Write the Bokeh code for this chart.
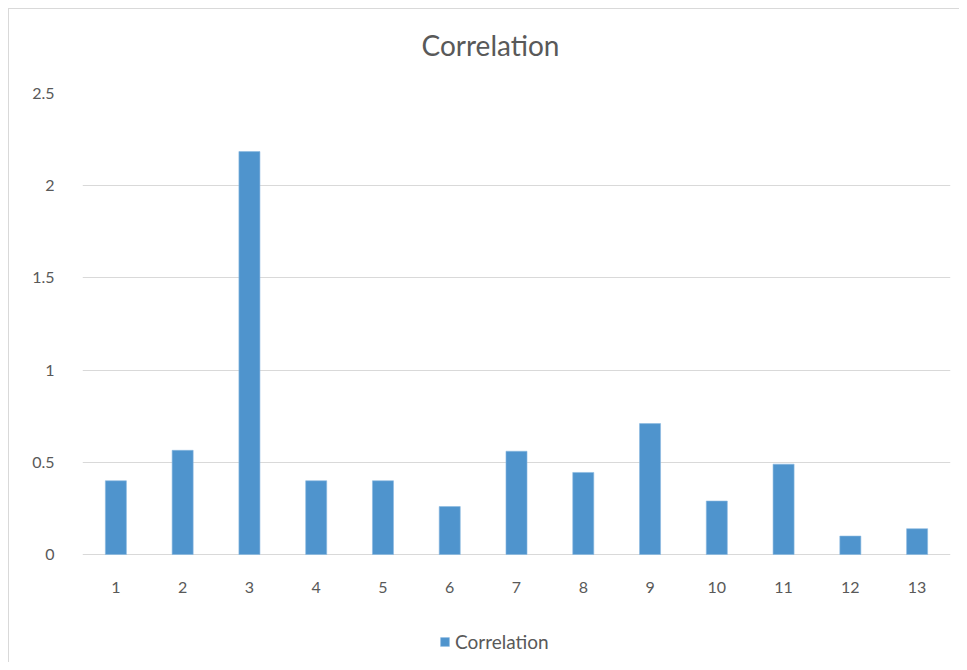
from bokeh.plotting import figure
from bokeh.models import FactorRange, Range1d, FixedTicker, CustomJSTickFormatter, Legend, LegendItem, ColumnDataSource
from bokeh.embed import file_html
from bokeh.resources import INLINE

categories = ["1", "2", "3", "4", "5", "6", "7", "8", "9", "10", "11", "12", "13"]
correlation = [0.40, 0.565, 2.185, 0.40, 0.40, 0.26, 0.56, 0.445, 0.71, 0.29, 0.49, 0.10, 0.14]
y_ticks = [0, 0.5, 1, 1.5, 2, 2.5]

FONT = "Lato"
TXT = "#595959"
BAR = "#4f94cd"

src = ColumnDataSource(dict(cat=categories, val=correlation))

p = figure(width=951, height=654, output_backend="svg", toolbar_location=None,
           x_range=FactorRange(*categories, range_padding=0), y_range=Range1d(-0.591, 2.5),
           min_border_left=73, min_border_right=10, min_border_top=84, min_border_bottom=0)
p.styles = {"border-left": "1px solid #d9d9d9", "border-top": "1px solid #d9d9d9",
            "margin-left": "8px", "margin-top": "8px"}
p.outline_line_color = None
p.background_fill_color = "white"
p.border_fill_color = "white"

r = p.vbar(x="cat", top="val", width=0.315, source=src, fill_color=BAR, line_color="#8ab8e0", line_width=0.6)

p.title.text = "Correlation"
p.title.align = "left"
p.title.offset = 339
p.title.text_font = FONT
p.title.text_font_size = "28px"
p.title.text_font_style = "normal"
p.title.text_color = TXT
p.title.standoff = 0
p.title.padding = dict(left=0, right=0, top=14, bottom=32)

p.yaxis.ticker = FixedTicker(ticks=y_ticks)
p.yaxis.formatter = CustomJSTickFormatter(code="return String(Math.round(tick*10)/10);")
p.xaxis.fixed_location = 0
for ax in (p.xaxis[0], p.yaxis[0]):
    ax.axis_line_color = None
    ax.major_tick_line_color = None
    ax.minor_tick_line_color = None
    ax.major_label_text_font = FONT
    ax.major_label_text_font_size = "16px"
    ax.major_label_text_color = TXT
p.yaxis.major_label_standoff = 22
p.xaxis.major_label_standoff = 21
p.xgrid.grid_line_color = None
p.ygrid.grid_line_color = "#d9d9d9"
p.ygrid.grid_line_width = 1

legend = Legend(items=[LegendItem(label="Correlation", renderers=[r])], location=(357, 10),
                orientation="horizontal", glyph_width=11, glyph_height=11, label_standoff=5,
                padding=4, margin=0, border_line_color=None, background_fill_alpha=0,
                label_text_font=FONT, label_text_font_size="19px", label_text_color=TXT)
p.add_layout(legend, "center")

open("out.html", "w").write(file_html(p, INLINE))
